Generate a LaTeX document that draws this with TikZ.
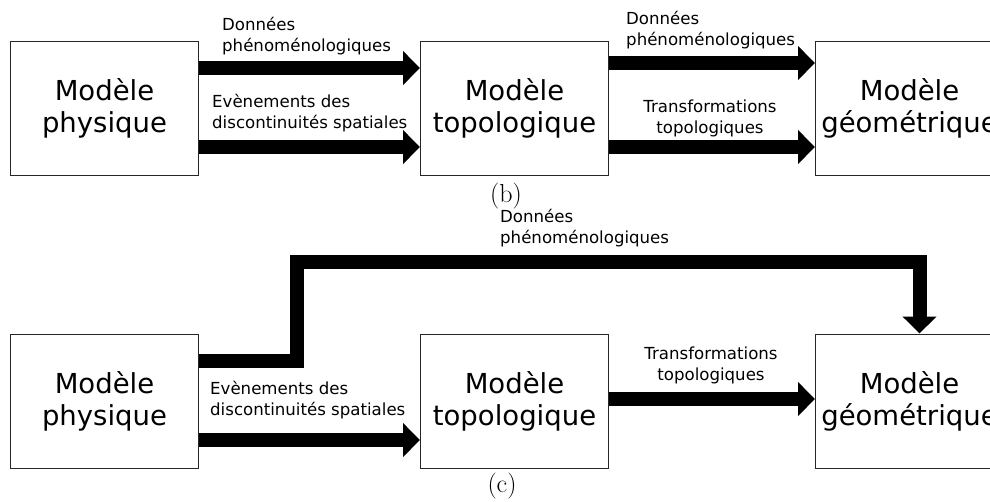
\documentclass[tikz,border=0pt]{standalone}
\usepackage{fontspec}
\newfontfamily\dejavu{DejaVu Sans}
\usepackage{tikz}
\usetikzlibrary{arrows.meta, positioning}
\tikzset{
  modele/.style={rectangle, draw=black!85, line width=1pt, minimum width=188pt,
                 minimum height=134pt, inner sep=0pt, align=center,
                 font=\dejavu\fontsize{27.5}{32}\selectfont},
  fleche/.style={line width=14pt, -{Triangle[width=33pt, length=17pt]}},
  etiquette/.style={inner sep=0pt, font=\dejavu\fontsize{16.6}{21}\selectfont},
  legende/.style={inner sep=0pt, font=\fontsize{26}{28}\selectfont}
}

\begin{document}
\begin{tikzpicture}[x=1pt, y=-1pt]
  \useasboundingbox (0,0) rectangle (990,501);

  \node[modele] (phys_b) at (104.5,108) {Modèle\\physique};
  \node[modele, right=221pt of phys_b] (topo_b) {Modèle\\topologique};
  \node[modele, right=206pt of topo_b] (geom_b) {Modèle\\géométrique};

  \node[modele, below=158pt of phys_b] (phys_c) {Modèle\\physique};
  \node[modele, below=158pt of topo_b] (topo_c) {Modèle\\topologique};
  \node[modele, below=158pt of geom_b] (geom_c) {Modèle\\géométrique};

  \draw[fleche] ([yshift=40pt]phys_b.east) -- ([yshift=40pt]topo_b.west);
  \draw[fleche] ([yshift=-39pt]phys_b.east) -- ([yshift=-39pt]topo_b.west);
  \draw[fleche] ([yshift=45pt]topo_b.east) -- ([yshift=45pt]geom_b.west);
  \draw[fleche] ([yshift=-39pt]topo_b.east) -- ([yshift=-39pt]geom_b.west);

  \coordinate (coude) at (297,262);
  \draw[fleche] ([yshift=40pt]phys_c.east) -| (coude) -| ([xshift=10pt]geom_c.north);
  \draw[fleche] ([yshift=-39pt]phys_c.east) -- ([yshift=-39pt]topo_c.west);
  \draw[fleche] ([yshift=2pt]topo_c.east) -- ([yshift=2pt]geom_c.west);

  \node[etiquette, align=left, anchor=base west] (donnees_b1) at (222,51) {Données\\phénoménologiques};
  \node[etiquette, align=left, anchor=base west] (evenements_b) at (212,128) {Evènements des\\discontinuités spatiales};
  \node[etiquette, align=left, anchor=base west] (donnees_b2) at (626,45) {Données\\phénoménologiques};
  \node[etiquette, align=center, anchor=base] (transfo_b) at (710,133) {Transformations\\topologiques};

  \node[etiquette, align=left, anchor=base west] (donnees_c) at (500,243) {Données\\phénoménologiques};
  \node[etiquette, align=left, anchor=base west] (evenements_c) at (210,415) {Evènements des\\discontinuités spatiales};
  \node[etiquette, align=center, anchor=base] (transfo_c) at (711,380) {Transformations\\topologiques};

  \node[legende] (leg_b) at (506,196) {(b)};
  \node[legende] (leg_c) at (502,486) {(c)};
\end{tikzpicture}
\end{document}
